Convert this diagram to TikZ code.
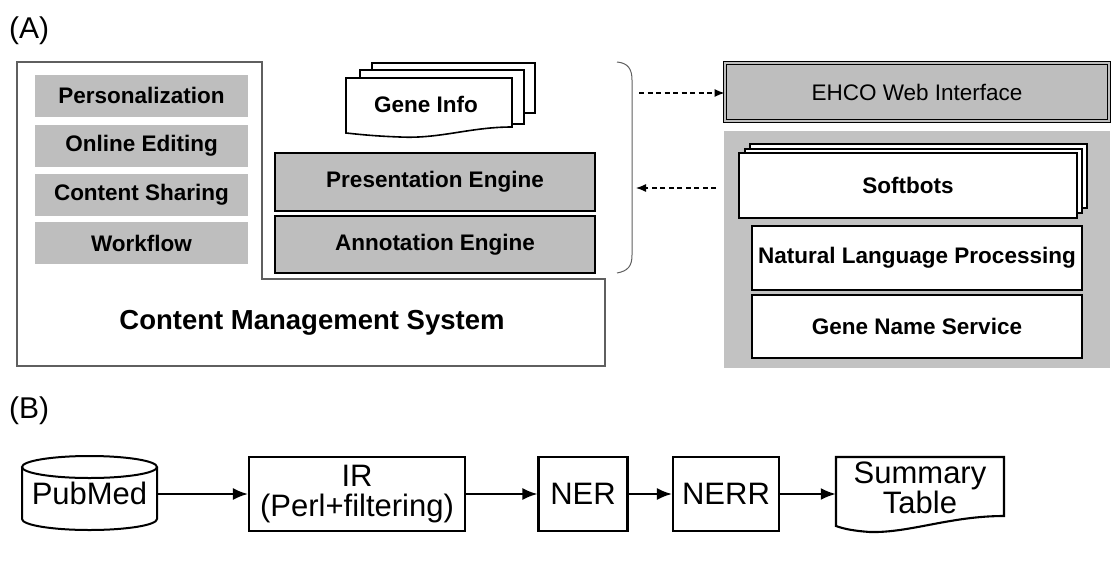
\documentclass[tikz,border=0pt]{standalone}
\usepackage{fontspec}
\setmainfont{Liberation Sans}
\usetikzlibrary{arrows.meta}
\definecolor{boxgray}{RGB}{190,190,190}
\definecolor{panelgray}{RGB}{194,194,194}
\definecolor{linegray}{RGB}{95,95,95}
\begin{document}
\begin{tikzpicture}[x=1pt,y=-1pt,
  lbl/.style={font=\fontsize{22.5}{25}\selectfont\bfseries},
  gbox/.style={fill=boxgray, draw=none, minimum width=213pt, minimum height=42pt, inner sep=0pt, lbl},
  ebox/.style={fill=boxgray, draw=black, line width=1.6pt, minimum width=319pt, minimum height=57pt, inner sep=0pt, lbl},
  wbox/.style={fill=white, draw=black, line width=1.6pt, minimum width=330pt, minimum height=63pt, inner sep=0pt, lbl},
  bfont/.style={font=\fontsize{31}{30}\selectfont},
  bbox/.style={draw=black, line width=2.1pt, inner sep=0pt, minimum height=74pt, align=center, bfont},
  darr/.style={line width=1.2pt, dash pattern=on 5pt off 3.5pt, -{Latex[length=10pt,width=8pt]}},
  sarr/.style={line width=2pt, -{Latex[length=15pt,width=12pt]}},
  panlbl/.style={font=\fontsize{30}{32}\selectfont},
]
\useasboundingbox (0,0) rectangle (1113,562);

% ---------- (A) ----------
\node[panlbl, anchor=west, inner sep=0pt] (labA) at (9,31) {(A)};

% CMS outline
\draw[linegray, line width=1.5pt] (17,62) -- (262,62) -- (262,279) -- (605,279) -- (605,366) -- (17,366) -- cycle;
\node[font=\fontsize{27.5}{30}\selectfont\bfseries] (cms) at (312,323) {Content Management System};

\node[gbox] (pers) at (141.5,95.5) {Personalization};
\node[gbox] (edit) at (141.5,145.5) {Online Editing};
\node[gbox] (share) at (141.5,194.5) {Content Sharing};
\node[gbox] (flow) at (141.5,243) {Workflow};

% Gene Info stack
\draw[fill=white, line width=1.6pt] (372,63) rectangle (535,113);
\draw[fill=white, line width=1.6pt] (360,70) rectangle (524,124);
\draw[fill=white, line width=1.6pt] (346,78) -- (512,78) -- (512,127)
   .. controls (470,127) and (440,139) .. (400,137)
   .. controls (372,136) and (356,134) .. (346,133) -- cycle;
\node[lbl] (gene) at (426,104) {Gene Info};

\node[ebox, minimum width=320pt, minimum height=58pt] (pres) at (435,182) {Presentation Engine};
\node[ebox, minimum width=320pt, minimum height=57pt] (annot) at (435,244.5) {Annotation Engine};

% brace
\draw[linegray, line width=1pt] (617,62) .. controls (628,63) and (632,69) .. (632,80)
   -- (632,255) .. controls (632,266) and (628,271) .. (617,273);
\coordinate (brA) at (639,93);
\coordinate (brB) at (636,188);

% EHCO web interface
\node[fill=boxgray, draw=black, line width=0.9pt, double=boxgray, double distance=2.2pt,
      minimum width=384pt, minimum height=58pt, inner sep=0pt,
      font=\fontsize{22.5}{25}\selectfont] (ehco) at (917,92) {EHCO Web Interface};

% panel
\node[fill=panelgray, draw=none, minimum width=386pt, minimum height=237pt, inner sep=0pt] (panel) at (917,249.5) {};
\draw[fill=white, line width=1.4pt] (750,144) rectangle (1087,208);
\draw[fill=white, line width=1.4pt] (745,149) rectangle (1082,213);
\node[wbox, minimum width=338pt, minimum height=65pt] (soft) at (908,185.5) {Softbots};
\node[wbox, minimum height=64pt] (nlp) at (917,258) {Natural Language Processing};
\node[wbox] (gns) at (917,326.5) {Gene Name Service};

\coordinate (sbA) at (716,188);
\draw[darr] (brA) -- (ehco.west |- brA);
\draw[darr] (sbA) -- (brB);

% ---------- (B) ----------
\node[panlbl, anchor=west, inner sep=0pt] (labB) at (9,411) {(B)};

\node[bfont, minimum width=135pt, minimum height=76pt, inner sep=0pt] (pubmed) at (89.5,493) {PubMed};
\draw[line width=2pt] (89.5,467) ellipse [x radius=67.5, y radius=11];
\draw[line width=2pt] (22,467) -- (22,519) arc[start angle=180, end angle=0, x radius=67.5, y radius=11] -- (157,467);

\node[bbox, minimum width=216pt] (ir) at (357,494) {IR\\(Perl+filtering)};
\node[bbox, minimum width=89pt] (ner) at (583,494) {NER};
\node[bbox, minimum width=106pt] (nerr) at (726,494) {NERR};

\draw[line width=2.1pt] (836,457) -- (1004,457) -- (1004,516)
   .. controls (950,516) and (910,533) .. (870,532)
   .. controls (855,531) and (844,529) .. (836,526) -- cycle;
\node[align=center, bfont, minimum width=168pt, minimum height=70pt, inner sep=0pt] (sum) at (920,488) {Summary\\Table};

\draw[sarr] (pubmed.east |- ir.west) -- (ir.west);
\draw[sarr] (ir.east) -- (ner.west);
\draw[sarr] (ner.east) -- (nerr.west);
\draw[sarr] (nerr.east) -- (nerr.east -| sum.west);
\end{tikzpicture}
\end{document}
